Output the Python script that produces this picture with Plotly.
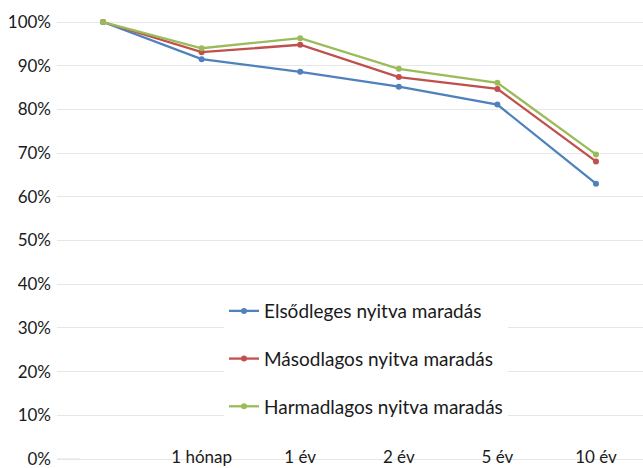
import plotly.graph_objects as go

categories = ["", "1 hónap", "1 év", "2 év", "5 év", "10 év"]
primary = [1.00, 0.915, 0.886, 0.852, 0.811, 0.630]
secondary = [1.00, 0.931, 0.948, 0.874, 0.847, 0.681]
tertiary = [1.00, 0.940, 0.963, 0.893, 0.861, 0.697]
series_names = ["Elsődleges nyitva maradás", "Másodlagos nyitva maradás", "Harmadlagos nyitva maradás"]
y_ticks = [0.1 * i for i in range(11)]
y_tick_labels = [f"{i * 10}%" for i in range(11)]

colors = ["#4f81bd", "#c0504d", "#9bbb59"]
x_idx = list(range(len(categories)))

fig = go.Figure()
for i, (name, vals) in enumerate(zip(series_names, [primary, secondary, tertiary])):
    fig.add_trace(go.Scatter(
        x=x_idx, y=vals, name=name, mode="lines+markers",
        line=dict(color=colors[i], width=2.3),
        marker=dict(size=6, color=colors[i]),
        legendgroup=f"g{i}",
    ))

fig.update_layout(
    width=643, height=468,
    margin=dict(l=57, r=0, t=0, b=0, autoexpand=False),
    paper_bgcolor="white", plot_bgcolor="white",
    font=dict(family="Lato", size=17, color="#1a1a1a"),
    showlegend=True,
    legend=dict(
        x=0.285, y=0.376, xanchor="left", yanchor="top",
        bgcolor="white", borderwidth=0,
        font=dict(family="Lato", size=19, color="#1a1a1a"),
        tracegroupgap=20,
    ),
    xaxis=dict(
        range=[-0.467, 5.477], tickmode="array", tickvals=x_idx, ticktext=categories,
        showgrid=False, zeroline=False, showline=False, ticks="",
        anchor="free", position=0.05, ticklabeloverflow="allow",
    ),
    yaxis=dict(
        range=[-0.0206, 1.0504], tickmode="array", tickvals=y_ticks, ticktext=y_tick_labels,
        showgrid=True, gridcolor="#e6e8e8", gridwidth=1.2, zeroline=False, showline=False,
        ticks="", ticklabelstandoff=5, ticklabeloverflow="allow",
    ),
    shapes=[dict(type="line", xref="paper", yref="y", x0=0, x1=0.04, y0=0, y1=0,
                 line=dict(color="#e6e8e8", width=1.5), layer="below")],
)

fig.write_html("out.html", config={"displayModeBar": False},
               post_script="document.body.style.margin='0';")
